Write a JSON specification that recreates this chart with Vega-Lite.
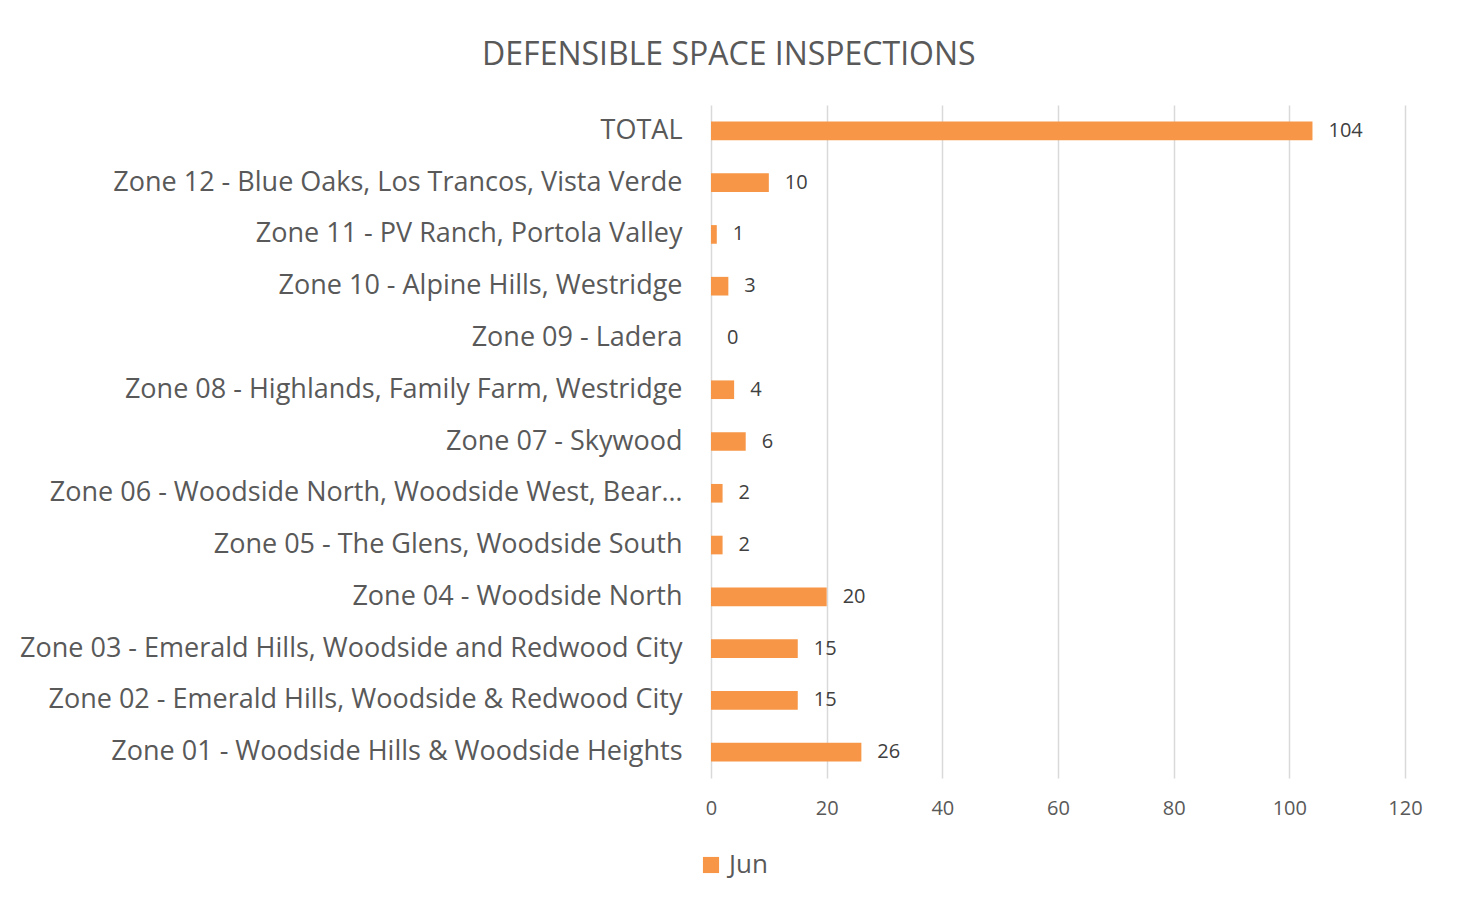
{
  "$schema": "https://vega.github.io/schema/vega-lite/v6.json",
  "width": 694,
  "height": 673,
  "autosize": {"type": "none"},
  "padding": {"left": 711, "top": 105, "right": 54, "bottom": 125},
  "background": "#ffffff",
  "config": {"view": {"stroke": null}},
  "title": {
    "text": "DEFENSIBLE SPACE INSPECTIONS",
    "frame": "bounds",
    "anchor": "middle",
    "dx": 8,
    "fontSize": 32,
    "font": "Open Sans",
    "fontWeight": "normal",
    "color": "#595959",
    "offset": 33
  },
  "data": {
    "values": [
      {"zone": "TOTAL", "month": "Jun", "count": 104},
      {"zone": "Zone 12 - Blue Oaks, Los Trancos, Vista Verde", "month": "Jun", "count": 10},
      {"zone": "Zone 11 - PV Ranch, Portola Valley", "month": "Jun", "count": 1},
      {"zone": "Zone 10 - Alpine Hills, Westridge", "month": "Jun", "count": 3},
      {"zone": "Zone 09 - Ladera", "month": "Jun", "count": 0},
      {"zone": "Zone 08 - Highlands, Family Farm, Westridge", "month": "Jun", "count": 4},
      {"zone": "Zone 07 - Skywood", "month": "Jun", "count": 6},
      {"zone": "Zone 06 - Woodside North, Woodside West, Bear…", "month": "Jun", "count": 2},
      {"zone": "Zone 05 - The Glens, Woodside South", "month": "Jun", "count": 2},
      {"zone": "Zone 04 - Woodside North", "month": "Jun", "count": 20},
      {"zone": "Zone 03 - Emerald Hills, Woodside and Redwood City", "month": "Jun", "count": 15},
      {"zone": "Zone 02 - Emerald Hills, Woodside & Redwood City", "month": "Jun", "count": 15},
      {"zone": "Zone 01 - Woodside Hills & Woodside Heights", "month": "Jun", "count": 26}
    ]
  },
  "encoding": {
    "y": {
      "field": "zone",
      "type": "nominal",
      "sort": null,
      "title": null,
      "scale": {"paddingInner": 0.64, "paddingOuter": 0.32},
      "axis": {
        "domain": false,
        "ticks": false,
        "labelFontSize": 27,
        "labelFont": "Open Sans",
        "labelColor": "#595959",
        "labelPadding": 29,
        "labelLimit": 900
      }
    },
    "x": {
      "field": "count",
      "type": "quantitative",
      "title": null,
      "scale": {"domain": [0, 120], "nice": false},
      "axis": {
        "values": [0, 20, 40, 60, 80, 100, 120],
        "domain": false,
        "ticks": false,
        "grid": true,
        "gridColor": "#d9d9d9",
        "gridWidth": 1.5,
        "labelFlush": false,
        "labelFontSize": 20,
        "labelFont": "Open Sans",
        "labelColor": "#595959",
        "labelPadding": 20
      }
    }
  },
  "layer": [
    {
      "mark": {"type": "bar"},
      "encoding": {
        "color": {
          "field": "month",
          "type": "nominal",
          "scale": {"range": ["#F79646"]},
          "legend": {
            "title": null,
            "orient": "none",
            "legendX": -13,
            "legendY": 747,
            "direction": "horizontal",
            "symbolType": "square",
            "symbolSize": 260,
            "symbolStrokeWidth": 0,
            "labelFontSize": 26,
            "labelFont": "Open Sans",
            "labelColor": "#595959",
            "labelOffset": 5
          }
        }
      }
    },
    {
      "mark": {"type": "text", "align": "left", "baseline": "middle", "dx": 16, "fontSize": 20, "font": "Open Sans", "color": "#404040"},
      "encoding": {"text": {"field": "count", "type": "quantitative"}}
    }
  ]
}
